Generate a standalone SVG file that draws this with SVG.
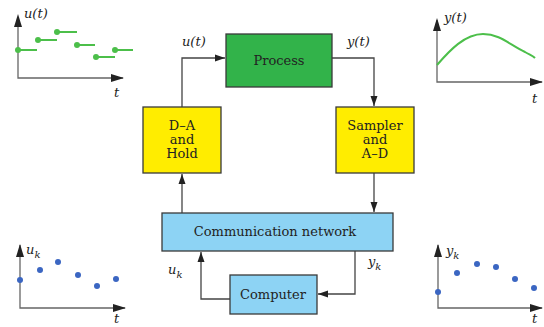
<svg xmlns="http://www.w3.org/2000/svg" width="544" height="327" viewBox="0 0 544 327">
<defs>
<style>
.box{stroke:#3a3a3a;stroke-width:1.3}
.lbl{font-family:"DejaVu Serif","Liberation Serif",serif;font-size:13px;fill:#222;text-anchor:middle}
.it{font-family:"DejaVu Serif","Liberation Serif",serif;font-style:italic;font-size:13px;fill:#222}
.con{fill:none;stroke:#444;stroke-width:1.3}
.ax{fill:none;stroke:#666;stroke-width:1.3}
.g{stroke:#4cbf4a;stroke-width:2;fill:none}
.gd{fill:#4cbf4a}
.bd{fill:#3b66c2}
</style>
<marker id="ar" viewBox="0 0 10 10" refX="10" refY="5" markerWidth="10" markerHeight="10" markerUnits="userSpaceOnUse" orient="auto">
<path d="M0,1.5 L10,5 L0,8.5 Z" fill="#222"/>
</marker>
</defs>
<rect width="544" height="327" fill="#fff"/>

<g id="connectors">
<polyline class="con" points="182,107 182,58 225,58" marker-end="url(#ar)"/>
<polyline class="con" points="332,58 374,58 374,106" marker-end="url(#ar)"/>
<polyline class="con" points="374,173 374,212" marker-end="url(#ar)"/>
<polyline class="con" points="182,213 182,174" marker-end="url(#ar)"/>
<polyline class="con" points="355,251 355,294 318,294" marker-end="url(#ar)"/>
<polyline class="con" points="230,299 201,299 201,252" marker-end="url(#ar)"/>
<text class="it" x="182" y="46">u(t)</text>
<text class="it" x="347" y="46">y(t)</text>
<text class="it" x="168" y="274">u<tspan font-size="10" dy="4">k</tspan></text>
<text class="it" x="368" y="266">y<tspan font-size="10" dy="4">k</tspan></text>
</g>

<g id="process">
<rect class="box" x="226" y="34" width="106" height="53" fill="#32b34a"/>
<text class="lbl" x="279" y="65">Process</text>
</g>
<g id="da-hold">
<rect class="box" x="143" y="107" width="78" height="66" fill="#ffed00"/>
<text class="lbl" x="182" y="130">D–A</text>
<text class="lbl" x="182" y="144">and</text>
<text class="lbl" x="182" y="158">Hold</text>
</g>
<g id="sampler">
<rect class="box" x="336" y="107" width="78" height="66" fill="#ffed00"/>
<text class="lbl" x="375" y="130">Sampler</text>
<text class="lbl" x="375" y="144">and</text>
<text class="lbl" x="375" y="158">A–D</text>
</g>
<g id="network">
<rect class="box" x="162" y="213" width="231" height="38" fill="#8dd3f4"/>
<text class="lbl" x="275" y="236">Communication network</text>
</g>
<g id="computer">
<rect class="box" x="230" y="275" width="87" height="39" fill="#8dd3f4"/>
<text class="lbl" x="273" y="299">Computer</text>
</g>

<g id="plot-ut">
<polyline class="ax" points="18,17 18,78 123,78"/>
<path d="M14,27 L18,14 L22,27 Z" fill="#222"/>
<path d="M111,74 L124,78 L111,82 Z" fill="#222"/>
<text class="it" x="24" y="18">u(t)</text>
<text class="it" x="114" y="97">t</text>
<path class="g" d="M18,50H37 M38,40H57 M57,32H77 M77,45H95 M96,57H115 M115,50H133"/>
<g class="gd"><circle cx="18" cy="50" r="3"/><circle cx="38" cy="40" r="3"/><circle cx="57" cy="32" r="3"/><circle cx="77" cy="45" r="3"/><circle cx="96" cy="57" r="3"/><circle cx="115" cy="50" r="3"/></g>
</g>

<g id="plot-yt">
<polyline class="ax" points="437,20 437,82 542,82"/>
<path d="M433,31 L437,18 L441,31 Z" fill="#222"/>
<path d="M530,78 L543,82 L530,86 Z" fill="#222"/>
<text class="it" x="444" y="22">y(t)</text>
<text class="it" x="532" y="103">t</text>
<path class="g" d="M437,65 C450,50 465,34 483,34 C500,34 510,45 525,52 C530,55 533,56 535,58"/>
</g>

<g id="plot-uk">
<polyline class="ax" points="20,245 20,308 125,308"/>
<path d="M16,257 L20,244 L24,257 Z" fill="#222"/>
<path d="M113,304 L126,308 L113,312 Z" fill="#222"/>
<text class="it" x="26" y="254">u<tspan font-size="10" dy="4">k</tspan></text>
<text class="it" x="114" y="323">t</text>
<g class="bd"><circle cx="20" cy="280" r="3"/><circle cx="40" cy="270" r="3"/><circle cx="58" cy="262" r="3"/><circle cx="78" cy="275" r="3"/><circle cx="97" cy="286" r="3"/><circle cx="116" cy="279" r="3"/></g>
</g>

<g id="plot-yk">
<polyline class="ax" points="438,245 438,308 542,308"/>
<path d="M434,257 L438,244 L442,257 Z" fill="#222"/>
<path d="M530,304 L543,308 L530,312 Z" fill="#222"/>
<text class="it" x="446" y="255">y<tspan font-size="10" dy="4">k</tspan></text>
<text class="it" x="532" y="323">t</text>
<g class="bd"><circle cx="438" cy="292" r="3"/><circle cx="457" cy="273" r="3"/><circle cx="477" cy="264" r="3"/><circle cx="496" cy="267" r="3"/><circle cx="515" cy="279" r="3"/><circle cx="534" cy="288" r="3"/></g>
</g>
</svg>
